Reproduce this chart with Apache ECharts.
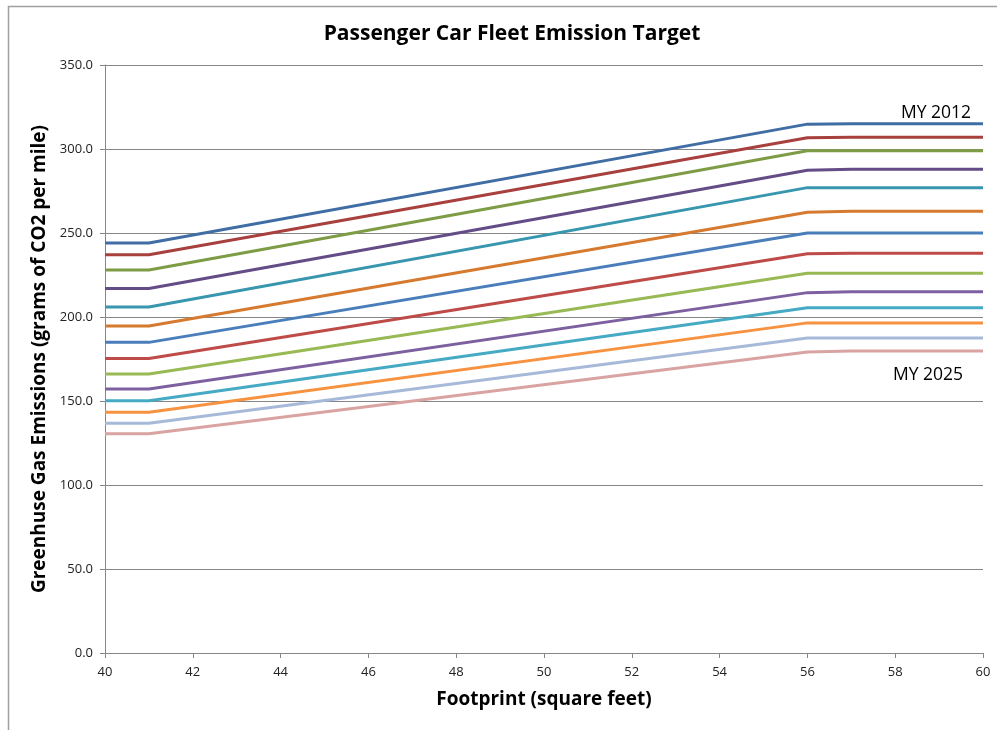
<!DOCTYPE html>
<html>
<head>
<meta charset="utf-8">
<script src="https://cdn.jsdelivr.net/npm/echarts@6/dist/echarts.min.js"></script>
<style>
html,body{margin:0;padding:0;background:#fff;}
#chart{width:997px;height:730px;}
</style>
</head>
<body>
<div id="chart"></div>
<script>
const footprint = [40, 41, 56, 57, 60];
const yTicks = [0, 50, 100, 150, 200, 250, 300, 350];
const seriesNames = ['MY 2012','MY 2013','MY 2014','MY 2015','MY 2016','MY 2017','MY 2018',
  'MY 2019','MY 2020','MY 2021','MY 2022','MY 2023','MY 2024','MY 2025'];
const my2012 = [244, 244, 314.8, 315, 315];
const my2013 = [237, 237, 306.7, 307, 307];
const my2014 = [228, 228, 299, 299, 299];
const my2015 = [217, 217, 287.4, 288, 288];
const my2016 = [206, 206, 277, 277, 277];
const my2017 = [194.7, 194.7, 262.4, 263, 263];
const my2018 = [184.9, 184.9, 250, 250, 250];
const my2019 = [175.3, 175.3, 237.6, 238, 238];
const my2020 = [166.1, 166.1, 226, 226, 226];
const my2021 = [157.2, 157.2, 214.5, 215, 215];
const my2022 = [150.2, 150.2, 205.5, 205.5, 205.5];
const my2023 = [143.3, 143.3, 196.5, 196.5, 196.5];
const my2024 = [136.8, 136.8, 187.5, 187.5, 187.5];
const my2025 = [130.5, 130.5, 179.2, 179.7, 179.7];
const allValues = [my2012,my2013,my2014,my2015,my2016,my2017,my2018,my2019,my2020,my2021,my2022,my2023,my2024,my2025];
const colors = ['#416DA5','#A8403D','#7E9C45','#644C87','#3896AE','#D57A2E',
  '#4A7EBB','#BE4B48','#98B954','#7D60A0','#46AAC5','#F69240','#A7B9D9','#D9A3A2'];

const font = 'Open Sans';
const chart = echarts.init(document.getElementById('chart'), null, {renderer:'canvas'});
chart.setOption({
  animation: false,
  backgroundColor: '#fff',
  title: {
    text: 'Passenger Car Fleet Emission Target',
    left: 507, top: 19, textAlign: 'center',
    textStyle: {fontFamily: font, fontWeight: 'bold', fontSize: 21, color: '#000'}
  },
  grid: {left: 105, right: 14, top: 65, bottom: 77},
  xAxis: {
    type: 'value', min: 40, max: 60, interval: 2,
    name: 'Footprint (square feet)', nameLocation: 'middle', nameGap: 37,
    nameTextStyle: {fontFamily: font, fontWeight: 'bold', fontSize: 19, color: '#000'},
    axisLine: {show: true, lineStyle: {color: '#868686', width: 1}},
    axisTick: {show: true, inside: false, length: 5, lineStyle: {color: '#868686'}},
    axisLabel: {fontFamily: font, fontSize: 13, color: '#222', margin: 13},
    splitLine: {show: false}
  },
  yAxis: {
    type: 'value', min: yTicks[0], max: yTicks[yTicks.length-1], interval: 50,
    name: 'Greenhuse Gas Emissions (grams of CO2 per mile)', nameLocation: 'middle', nameGap: 53,
    nameTextStyle: {fontFamily: font, fontWeight: 'bold', fontSize: 19, color: '#000'},
    axisLine: {show: true, lineStyle: {color: '#868686', width: 1}},
    axisTick: {show: true, inside: false, length: 5, lineStyle: {color: '#868686'}},
    axisLabel: {fontFamily: font, fontSize: 13, color: '#222', margin: 12,
      formatter: v => v.toFixed(1)},
    splitLine: {show: true, lineStyle: {color: '#868686', width: 1}}
  },
  graphic: [
    {type: 'rect', left: 6, top: 4, shape: {width: 1100, height: 900}, silent: true,
      style: {fill: 'none', stroke: '#a0a0a0', lineWidth: 1.5}},
    {type: 'text', left: 901, top: 104, silent: true,
      style: {text: 'MY 2012', font: '17.5px "Open Sans"', fill: '#000'}},
    {type: 'text', left: 893, top: 366, silent: true,
      style: {text: 'MY 2025', font: '17.5px "Open Sans"', fill: '#000'}}
  ],
  series: allValues.map((vals, i) => ({
    name: seriesNames[i],
    type: 'line',
    data: footprint.map((x, j) => [x, vals[j]]),
    showSymbol: false,
    symbol: 'none',
    lineStyle: {color: colors[i], width: 3},
    z: 3 + (allValues.length - i)
  }))
});
</script>
</body>
</html>
